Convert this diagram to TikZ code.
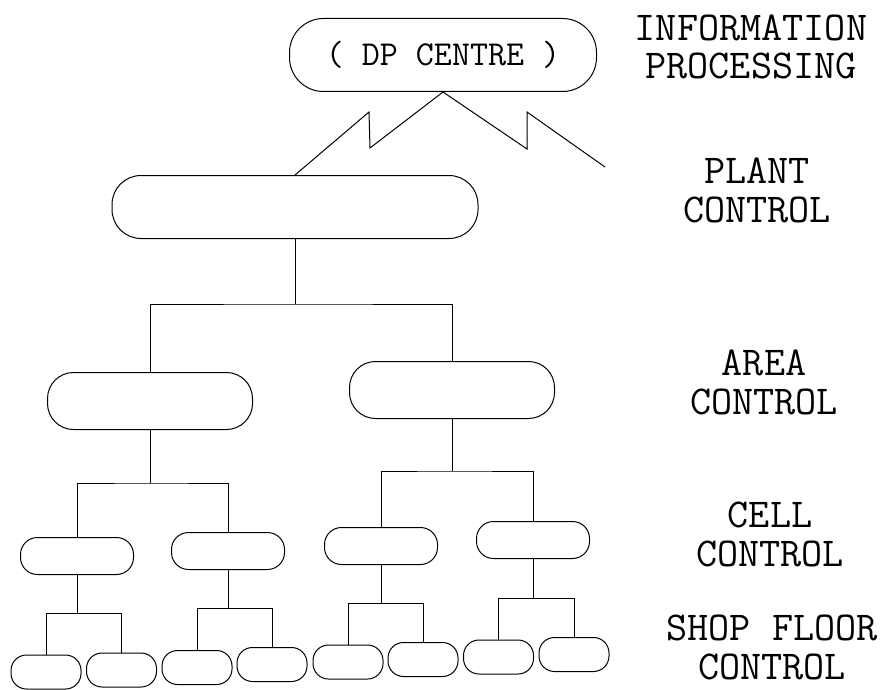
\documentclass[tikz,border=0pt]{standalone}
\usepackage{fontspec}
\usetikzlibrary{calc}
\begin{document}
\begin{tikzpicture}[x=1pt,y=-1pt,line width=1pt,
  stadium/.style={draw,rectangle,inner sep=0pt},
  dpbox/.style={stadium,minimum width=307pt,minimum height=73pt,rounded corners=34pt},
  plantbox/.style={stadium,minimum width=366pt,minimum height=63pt,rounded corners=29pt},
  areabox/.style={stadium,minimum width=205pt,minimum height=57pt,rounded corners=26pt},
  cellbox/.style={stadium,minimum width=113pt,minimum height=37pt,rounded corners=17pt},
  shopbox/.style={stadium,minimum width=70pt,minimum height=34pt,rounded corners=15.5pt},
  lbl/.style={font=\ttfamily\fontsize{41}{39}\selectfont,align=center,inner sep=0pt}]
\useasboundingbox (0,0) rectangle (894,690);

% boxes
\node[dpbox,font=\ttfamily\fontsize{35}{40}\selectfont] (dp) at (443,55) {( DP CENTRE )};
\node[plantbox] (plant) at (295,207) {};
\node[areabox] (a1) at (150,401) {};
\node[areabox] (a2) at (452,390) {};
\node[cellbox] (c1) at (77,556) {};
\node[cellbox] (c2) at (228,551) {};
\node[cellbox] (c3) at (381,546) {};
\node[cellbox] (c4) at (533,540) {};
\node[shopbox] (s1) at (46,672) {};
\node[shopbox] (s2) at (121.5,670) {};
\node[shopbox] (s3) at (197,667.5) {};
\node[shopbox] (s4) at (272,664.5) {};
\node[shopbox] (s5) at (348,662) {};
\node[shopbox] (s6) at (423,659.5) {};
\node[shopbox] (s7) at (498.5,657) {};
\node[shopbox] (s8) at (574,654.5) {};

% lightning links
\coordinate (rend) at (605,167);
\draw (dp.south) -- ++(-73,56) -- ++(-1,-36) -- (plant.north);
\draw (dp.south) -- ++(84,57) -- ++(0,-37) -- (rend);

% tree connectors
\coordinate (jp) at ($(plant.south)+(0,65)$);
\draw (plant.south) -- (jp);
\draw (a1.north) |- (jp) -| (a2.north);

\coordinate (ja1) at ($(a1.south)+(0,53)$);
\draw (a1.south) -- (ja1);
\draw (c1.north) |- (ja1) -| (c2.north);

\coordinate (ja2) at ($(a2.south)+(0,52)$);
\draw (a2.south) -- (ja2);
\draw (c3.north) |- (ja2) -| (c4.north);

\coordinate (jc1) at ($(c1.south)+(0,38.5)$);
\draw (c1.south) -- (jc1);
\draw (s1.north) |- (jc1) -| (s2.north);

\coordinate (jc2) at ($(c2.south)+(0,38.5)$);
\draw (c2.south) -- (jc2);
\draw (s3.north) |- (jc2) -| (s4.north);

\coordinate (jc3) at ($(c3.south)+(0,38.5)$);
\draw (c3.south) -- (jc3);
\draw (s5.north) |- (jc3) -| (s6.north);

\coordinate (jc4) at ($(c4.south)+(0,39.5)$);
\draw (c4.south) -- (jc4);
\draw (s7.north) |- (jc4) -| (s8.north);

% level labels
\node[lbl,font=\ttfamily\fontsize{41}{38}\selectfont] (lip) at (751,47) {INFORMATION\\PROCESSING};
\node[lbl] (lpc) at (757,190) {PLANT\\CONTROL};
\node[lbl] (lac) at (764,382) {AREA\\CONTROL};
\node[lbl] (lcc) at (770,534) {CELL\\CONTROL};
\node[lbl] (lsf) at (772,647) {SHOP FLOOR\\CONTROL};
\end{tikzpicture}
\end{document}
